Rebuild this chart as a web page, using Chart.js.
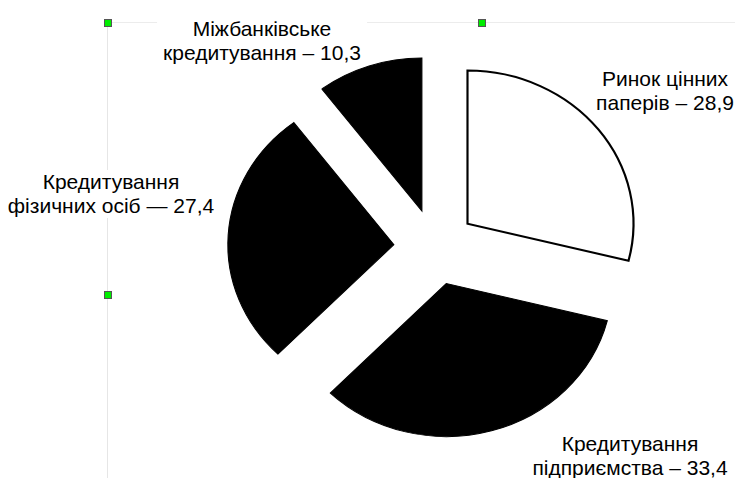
<!DOCTYPE html>
<html>
<head>
<meta charset="utf-8">
<title>Структура активів</title>
<script src="https://cdn.jsdelivr.net/npm/chart.js@4.4.1/dist/chart.umd.min.js"></script>
<style>
  body { margin: 0; background: #fff; }
  #wrap { position: relative; width: 735px; height: 478px; overflow: hidden; }
  #pieChart { position: absolute; left: 0; top: 0; }
  .hline { position: absolute; left: 107px; top: 22px; width: 628px; height: 1px; background: #ececec; }
  .vline { position: absolute; left: 107px; top: 22px; width: 1px; height: 456px; background: #e6e6e6; }
  .label {
    position: absolute;
    transform: translateX(-50%);
    white-space: nowrap;
    text-align: center;
    font-family: "Liberation Sans", Arial, sans-serif;
    font-size: 21px;
    line-height: 24px;
    color: #000;
    background: #fff;
    padding: 0 6px;
  }
  .handle { position: absolute; width: 6px; height: 6px; background: #00ee00; border: 1px solid #555; }
</style>
</head>
<body>
<div id="wrap">
  <div class="hline"></div>
  <div class="vline"></div>
  <div id="labels"></div>
  <canvas id="pieChart"></canvas>
  <div class="handle" style="left:104px;top:19px"></div>
  <div class="handle" style="left:478px;top:19px"></div>
  <div class="handle" style="left:104px;top:291px"></div>
</div>
<script>
const categories = ["Ринок цінних паперів", "Кредитування підприємства", "Кредитування фізичних осіб", "Міжбанківське кредитування"];
const shares = [28.9, 33.4, 27.4, 10.3];

// how the names are broken over two lines on the slide, and the dash used
const nameLines = [["Ринок цінних", "паперів"], ["Кредитування", "підприємства"], ["Кредитування", "фізичних осіб"], ["Міжбанківське", "кредитування"]];
const dashes = ["–", "–", "—", "–"];

const fills = ["#ffffff", "#000000", "#000000", "#000000"];
const labelSpots = [[665, 67], [630, 432], [111, 170], [262, 17]];

const STRETCH_X = 1.085; // the slide picture is a bit wider than tall
const EXPLODE = 38;

const labelsBox = document.getElementById("labels");
nameLines.forEach((lines, i) => {
  const div = document.createElement("div");
  div.className = "label";
  div.style.left = labelSpots[i][0] + "px";
  div.style.top = labelSpots[i][1] + "px";
  const value = shares[i].toFixed(1).replace(".", ",");
  div.innerHTML = `${lines[0]}<br>${lines[1]} ${dashes[i]} ${value}`;
  labelsBox.appendChild(div);
});

const explodedPie = {
  id: "explodedPie",
  beforeDatasetsDraw(chart) {
    const ctx = chart.ctx;
    chart.getDatasetMeta(0).data.forEach(arc => {
      const mid = (arc.startAngle + arc.endAngle) / 2;
      ctx.save();
      ctx.translate(arc.x, arc.y);
      ctx.scale(STRETCH_X, 1);
      ctx.translate(Math.cos(mid) * EXPLODE, Math.sin(mid) * EXPLODE);
      ctx.translate(-arc.x, -arc.y);
      arc.draw(ctx);
      ctx.restore();
    });
    return false;
  }
};

const canvas = document.getElementById("pieChart");
canvas.width = 735;
canvas.height = 478;

new Chart(canvas.getContext("2d"), {
  type: "pie",
  data: {
    labels: categories,
    datasets: [{
      data: shares,
      backgroundColor: fills,
      borderColor: "#000000",
      borderWidth: [2, 1, 1, 1],
      borderJoinStyle: "miter",
      radius: 153
    }]
  },
  options: {
    responsive: false,
    animation: false,
    events: [],
    layout: { padding: { left: 135, top: 16, right: 0, bottom: 0 } },
    plugins: {
      legend: { display: false },
      tooltip: { enabled: false }
    }
  },
  plugins: [explodedPie]
});
</script>
</body>
</html>
